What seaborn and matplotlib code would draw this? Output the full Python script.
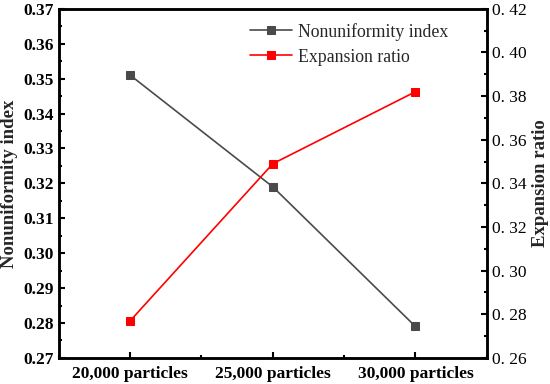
import pandas as pd
import seaborn as sns
import matplotlib.pyplot as plt
from matplotlib.ticker import MultipleLocator, AutoMinorLocator, FuncFormatter

categories = ['20,000 particles', '25,000 particles', '30,000 particles']
nonuniformity = [0.351, 0.319, 0.279]
expansion = [0.277, 0.349, 0.382]

df = pd.DataFrame({'cat': categories, 'non': nonuniformity, 'exp': expansion})

sns.set_theme(style='ticks')
plt.rcParams['font.family'] = ['Liberation Serif', 'DejaVu Serif']

fig = plt.figure(figsize=(5.5, 3.84), dpi=100)
ax = fig.add_axes([0.107, 0.068, 0.778, 0.909])
ax2 = ax.twinx()

sns.lineplot(x=df.index, y='non', data=df, ax=ax, color='#4a4a4a', marker='s',
             markersize=6, markeredgecolor='#4a4a4a', linewidth=1.2,
             label='Nonuniformity index', legend=False)
sns.lineplot(x=df.index, y='exp', data=df, ax=ax2, color='#ff0000', marker='s',
             markersize=6, markeredgecolor='#ff0000', linewidth=1.2,
             label='Expansion ratio', legend=False)

ax.set_xlim(-0.5, 2.5)
ax.set_xticks(range(len(categories)))
ax.set_xticklabels(categories, fontweight='bold', fontsize=12.5)
ax.xaxis.set_minor_locator(MultipleLocator(0.5))

ax.set_ylim(0.27, 0.37)
ax.yaxis.set_major_locator(MultipleLocator(0.01))
ax.yaxis.set_minor_locator(AutoMinorLocator(2))
ax.yaxis.set_major_formatter(FuncFormatter(lambda v, p: f'{v:.2f}'))
for t in ax.get_yticklabels():
    t.set_fontweight('bold')
    t.set_fontsize(12.5)

ax2.set_ylim(0.26, 0.42)
ax2.yaxis.set_major_locator(MultipleLocator(0.02))
ax2.yaxis.set_minor_locator(AutoMinorLocator(2))
ax2.yaxis.set_major_formatter(FuncFormatter(lambda v, p: f'{v:.2f}'.replace('.', '. ')))
for t in ax2.get_yticklabels():
    t.set_fontsize(12.5)

ax.set_xlabel('')
ax.set_ylabel('Nonuniformity index', fontweight='bold', fontsize=13.5)
ax2.set_ylabel('Expansion ratio', fontweight='bold', fontsize=13.5)

for a in (ax, ax2):
    a.tick_params(which='both', direction='in', width=1.5, colors='black')
    a.tick_params(which='major', length=4)
    a.tick_params(which='minor', length=2.5)
    for s in a.spines.values():
        s.set_linewidth(1.8)
        s.set_color('black')
ax.tick_params(axis='x', which='both', top=False)
ax.tick_params(axis='y', which='both', right=False)
ax.tick_params(axis='x', pad=6)
ax2.tick_params(axis='y', which='both', left=False)

h1, l1 = ax.get_legend_handles_labels()
h2, l2 = ax2.get_legend_handles_labels()
ax.legend(h1 + h2, l1 + l2, loc='upper left', frameon=False, fontsize=12.8,
          bbox_to_anchor=(0.446, 0.96), handlelength=2.4, handletextpad=0.3,
          borderaxespad=0, borderpad=0, labelspacing=0.45)

plt.savefig('out.png', dpi=100)
